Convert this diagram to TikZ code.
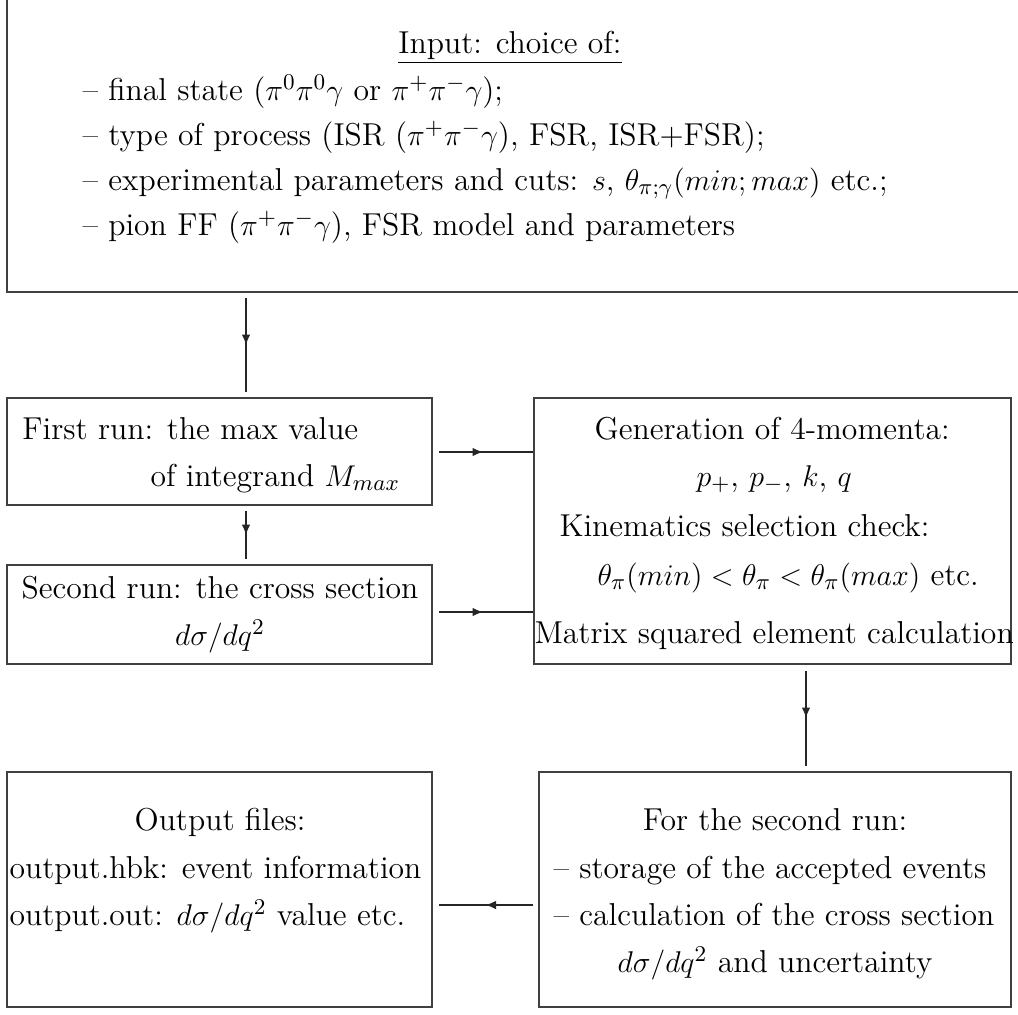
\documentclass[tikz,border=0pt]{standalone}
\usetikzlibrary{decorations.markings,arrows.meta,fit}
\begin{document}
\begin{tikzpicture}[x=0.4pt,y=-0.4pt,
  font=\fontsize{12.67}{15.2}\selectfont,
  box/.style={draw=black!75, line width=0.6pt, inner sep=0pt},
  txt/.style={inner sep=0pt, anchor=base west},
  ctxt/.style={inner sep=0pt, anchor=base},
  midarrow/.style={draw=black!85, line width=0.5pt, postaction={decorate},
    decoration={markings, mark=at position 0.5 with {\arrow{Latex[length=4.2pt,width=3.4pt]}}}}
]
\clip (0,0) rectangle (1018,1014);
% boxes
\node[box, fit={(7,-30) (1040,292)}] (inp) {};
\node[box, fit={(7,398) (432,505)}] (first) {};
\node[box, fit={(7,565) (432,664)}] (second) {};
\node[box, fit={(534,398) (1011,664)}] (gen) {};
\node[box, fit={(7,772) (432,1007)}] (out) {};
\node[box, fit={(539,772) (1011,1007)}] (run2) {};
% input texts
\node[ctxt] (i0) at (510,53) {\underline{Input: choice of:}};
\node[txt] (i1) at (82,100) {-- final state ($\pi^0\pi^0\gamma$ or $\pi^+\pi^-\gamma$);};
\node[txt] (i2) at (82,145) {-- type of process (ISR ($\pi^+\pi^-\gamma$), FSR, ISR+FSR);};
\node[txt] (i3) at (82,190) {-- experimental parameters and cuts: $s$, $\theta_{\pi;\gamma}(min;max)$ etc.;};
\node[txt] (i4) at (82,235) {-- pion FF ($\pi^+\pi^-\gamma$), FSR model and parameters};
% first run
\node[txt] (f1) at (22,439) {First run: the max value};
\node[txt] (f2) at (150,486) {of integrand $M_{max}$};
% second run
\node[ctxt] (s1) at (220,598) {Second run: the cross section};
\node[ctxt] (s2) at (220,645) {$d\sigma/dq^2$};
% generation
\node[txt] (g1) at (594,439) {Generation of 4-momenta:};
\node[txt] (g2) at (696,486) {$p_+$, $p_-$, $k$, $q$};
\node[txt] (g3) at (559,536) {Kinematics selection check:};
\node[txt] (g4) at (597,585) {$\theta_\pi(min) < \theta_\pi < \theta_\pi(max)$ etc.};
\node[txt] (g5) at (534,643) {Matrix squared element calculation};
% output
\node[ctxt] (o1) at (220,830) {Output files:};
\node[txt] (o2) at (9,878) {output.hbk: event information};
\node[txt] (o3) at (9,925) {output.out: $d\sigma/dq^2$ value etc.};
% for the second run
\node[ctxt] (r1) at (775,830) {For the second run:};
\node[txt] (r2) at (553,878) {-- storage of the accepted events};
\node[txt] (r3) at (553,925) {-- calculation of the cross section};
\node[ctxt] (r4) at (775,972) {$d\sigma/dq^2$ and uncertainty};
% arrow anchors
\coordinate (ax1) at (246,0);
\coordinate (ax2) at (806,0);
\coordinate (ay1) at (0,452);
\coordinate (ay2) at (0,612);
\coordinate (ay3) at (0,905);
% connectors
\draw[midarrow, shorten <=2pt, shorten >=2pt] (inp.south -| ax1) -- (first.north -| ax1);
\draw[midarrow, shorten <=2pt, shorten >=2pt] (first.south -| ax1) -- (second.north -| ax1);
\draw[midarrow, shorten <=2.4pt] (first.east |- ay1) -- (gen.west |- ay1);
\draw[midarrow, shorten <=2.4pt] (second.east |- ay2) -- (gen.west |- ay2);
\draw[midarrow, shorten <=2.4pt, shorten >=2pt] (gen.south -| ax2) -- (run2.north -| ax2);
\draw[midarrow, shorten <=2pt, shorten >=2.4pt] (run2.west |- ay3) -- (out.east |- ay3);
\end{tikzpicture}
\end{document}
